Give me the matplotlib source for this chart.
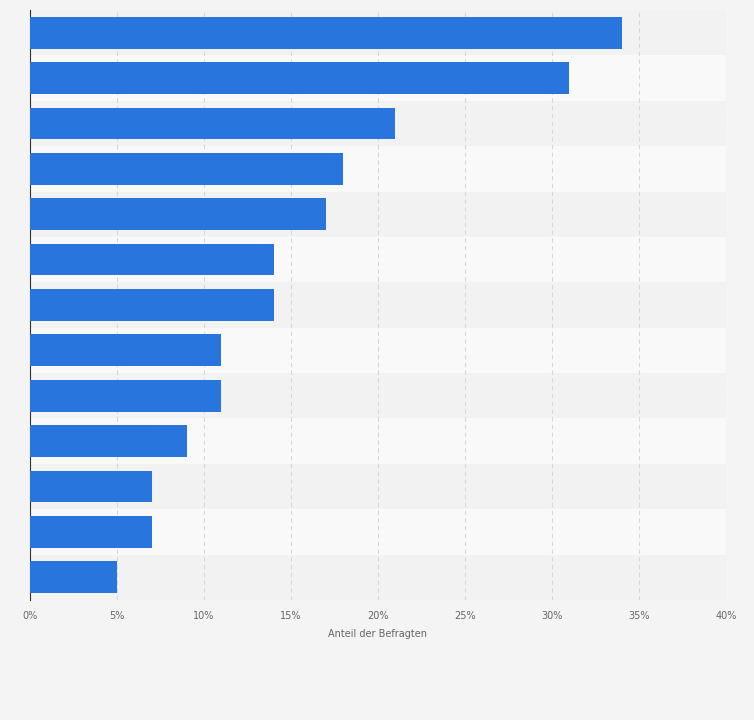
import matplotlib
matplotlib.use("Agg")
import matplotlib.pyplot as plt

values = [34, 31, 21, 18, 17, 14, 14, 11, 11, 9, 7, 7, 5]
xticks = [0, 5, 10, 15, 20, 25, 30, 35, 40]
xticklabels = ["0%", "5%", "10%", "15%", "20%", "25%", "30%", "35%", "40%"]

fig = plt.figure(figsize=(7.54, 7.20), dpi=100)
fig.patch.set_facecolor("#f4f4f4")
ax = fig.add_axes([30/754, 1-600/720, 696/754, 590/720])
ax.set_facecolor("#f4f4f4")
n = len(values)
ys = list(range(n))
for i in ys:
    ax.axhspan(i-0.5, i+0.5, color="#f2f2f2" if i % 2 == 0 else "#f9f9f9", zorder=0, lw=0)
ax.barh(ys, values, height=0.7, color="#2876dd", zorder=3)
ax.set_ylim(n-0.5, -0.5)
ax.set_xlim(0, 40)
ax.set_xticks(xticks)
ax.set_xticklabels(xticklabels, fontsize=7, color="#666666")
ax.set_yticks([])
ax.grid(axis="x", linestyle=(0, (4, 3)), color="#d8d8d8", lw=0.8, zorder=1)
for s in ["top", "right", "bottom"]:
    ax.spines[s].set_visible(False)
ax.spines["left"].set_color("#333333")
ax.tick_params(axis="x", length=0, pad=8)
ax.set_xlabel("Anteil der Befragten", fontsize=7, color="#666666", labelpad=6)
fig.savefig("out.png", dpi=100, facecolor=fig.get_facecolor())
